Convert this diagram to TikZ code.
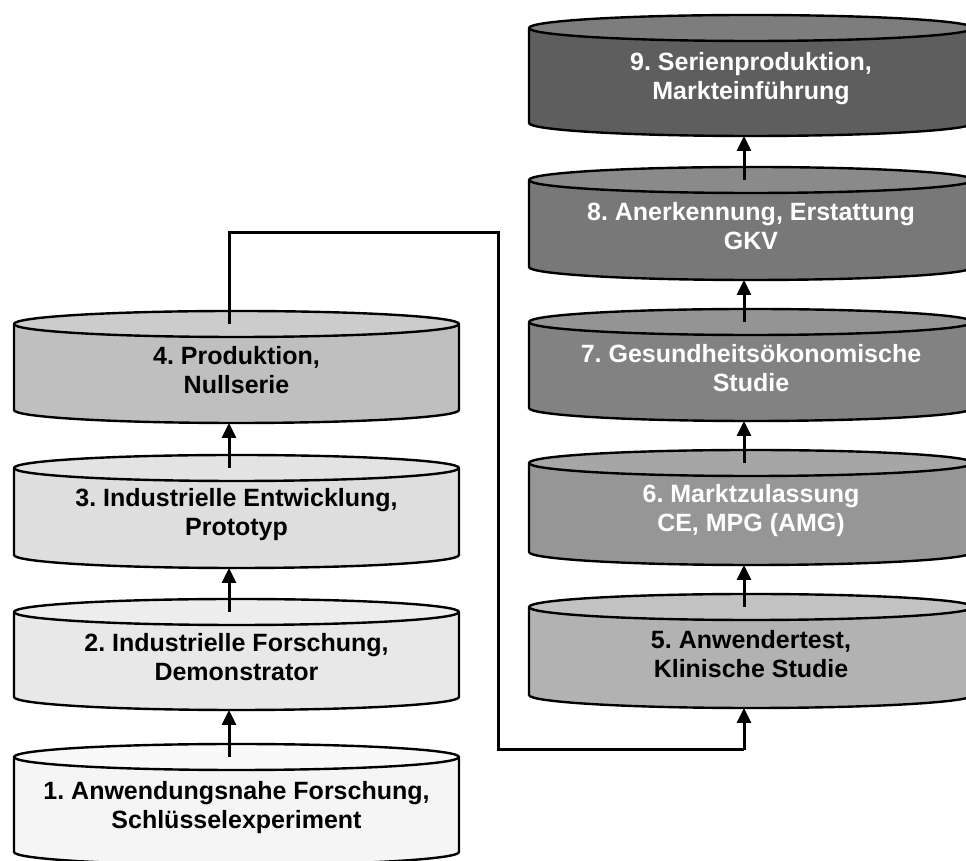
\documentclass[tikz,border=0pt]{standalone}
\usepackage{fontspec}
\setmainfont{Liberation Sans}
\usetikzlibrary{arrows.meta}
\frenchspacing

\definecolor{s1side}{gray}{0.96}
\definecolor{s1lid}{gray}{0.975}
\definecolor{s2side}{gray}{0.91}
\definecolor{s2lid}{gray}{0.93}
\definecolor{s3side}{gray}{0.87}
\definecolor{s3lid}{gray}{0.89}
\definecolor{s4side}{gray}{0.75}
\definecolor{s4lid}{gray}{0.80}
\definecolor{s5side}{gray}{0.70}
\definecolor{s5lid}{gray}{0.76}
\definecolor{s6side}{gray}{0.59}
\definecolor{s6lid}{gray}{0.65}
\definecolor{s7side}{gray}{0.51}
\definecolor{s7lid}{gray}{0.58}
\definecolor{s8side}{gray}{0.47}
\definecolor{s8lid}{gray}{0.54}
\definecolor{s9side}{gray}{0.37}
\definecolor{s9lid}{gray}{0.49}

\tikzset{
  cylline/.style={draw=black, line width=2.4pt, line join=round},
  stagetext/.style={font=\bfseries\fontsize{25}{29}\selectfont, align=center, inner sep=0pt},
  flow/.style={line width=3pt, -{Triangle[length=15pt,width=14pt]}},
  route/.style={line width=3pt},
}

% #1 name, #2 centre x, #3 lid centre y, #4 base centre y, #5 half width,
% #6 side colour, #7 lid colour, #8 text colour, #9 text
\newcommand{\stage}[9]{%
  \coordinate (#1top) at (#2,#3);
  \coordinate (#1bot) at (#2,#4-13);
  \filldraw[fill=#6, cylline] (#2-#5,#3) -- (#2-#5,#4)
    arc[start angle=180, end angle=360, x radius=#5, y radius=13]
    -- (#2+#5,#3) -- cycle;
  \filldraw[fill=#7, cylline] (#1top) ellipse[x radius=#5, y radius=13];
  \node[stagetext, text=#8] (#1) at (#2,{(#3+#4)/2-3}) {#9};
}

\begin{document}
\begin{tikzpicture}[x=1pt, y=1pt]
  \useasboundingbox (0,0) rectangle (966,861);
  \clip (0,0) rectangle (966,861);

  % left column: research and development
  \stage{n1}{236.5}{104}{9}{222.5}{s1side}{s1lid}{black}{1. Anwendungsnahe Forschung,\\Schlüsselexperiment}
  \stage{n2}{236.5}{249}{164}{222.5}{s2side}{s2lid}{black}{2. Industrielle Forschung,\\Demonstrator}
  \stage{n3}{236.5}{393}{306}{222.5}{s3side}{s3lid}{black}{3. Industrielle Entwicklung,\\Prototyp}
  \stage{n4}{236.5}{537}{451}{222.5}{s4side}{s4lid}{black}{4. Produktion,\\Nullserie}

  % right column: approval and market
  \stage{n5}{751}{254}{166}{222}{s5side}{s5lid}{black}{5. Anwendertest,\\Klinische Studie}
  \stage{n6}{751}{398}{309}{222}{s6side}{s6lid}{white}{6. Marktzulassung\\CE, MPG (AMG)}
  \stage{n7}{751}{539}{453}{222}{s7side}{s7lid}{white}{7. Gesundheitsökonomische\\Studie}
  \stage{n8}{751}{681}{594}{222}{s8side}{s8lid}{white}{8. Anerkennung, Erstattung\\GKV}
  \stage{n9}{751}{833}{738}{222}{s9side}{s9lid}{white}{9. Serienproduktion,\\Markteinführung}

  % steps within each column
  \draw[flow] ([xshift=-7.5pt]n1top) -- ([xshift=-7.5pt]n2bot);
  \draw[flow] ([xshift=-7.5pt]n2top) -- ([xshift=-7.5pt]n3bot);
  \draw[flow] ([xshift=-7.5pt]n3top) -- ([xshift=-7.5pt]n4bot);
  \draw[flow] ([xshift=-7pt]n5top) -- ([xshift=-7pt]n6bot);
  \draw[flow] ([xshift=-7pt]n6top) -- ([xshift=-7pt]n7bot);
  \draw[flow] ([xshift=-7pt]n7top) -- ([xshift=-7pt]n8bot);
  \draw[flow] ([xshift=-7pt]n8top) -- ([xshift=-7pt]n9bot);

  % hand-over from production to the user trial
  \coordinate (upturn) at (229,628);
  \coordinate (rightturn) at (498,628);
  \coordinate (downturn) at (498,111);
  \coordinate (entry) at (744,111);
  \draw[route, line join=miter] ([xshift=-7.5pt]n4top) -- (upturn) -- (rightturn) -- (downturn) -- (entry);
  \draw[flow] (entry) -- ([xshift=-7pt]n5bot);
\end{tikzpicture}
\end{document}
